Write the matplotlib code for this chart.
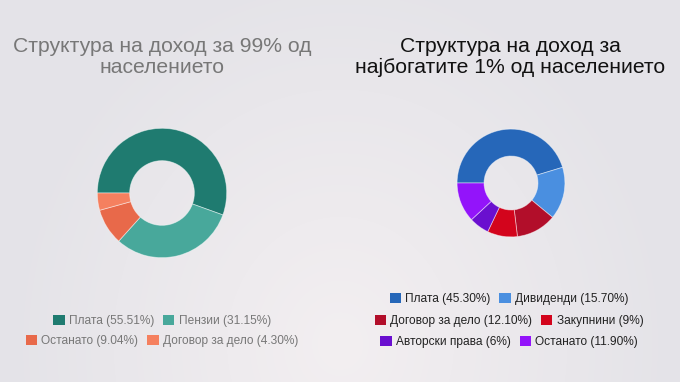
import matplotlib
matplotlib.use("Agg")
import matplotlib.pyplot as plt
from matplotlib.patches import Patch
import numpy as np

plt.rcParams['font.family'] = ['Liberation Sans', 'DejaVu Sans']

# Data
left_title = "Структура на доход за 99% од\nнаселението"
left_labels = ["Плата", "Пензии", "Останато", "Договор за дело"]
left_values = [55.51, 31.15, 9.04, 4.30]
left_texts = ["55.51%", "31.15%", "9.04%", "4.30%"]
left_colors = ["#1f7b70", "#48a89b", "#e8694a", "#f5805f"]

right_title = "Структура на доход за\nнајбогатите 1% од населението"
right_labels = ["Плата", "Дивиденди", "Договор за дело", "Закупнини", "Авторски права", "Останато"]
right_values = [45.30, 15.70, 12.10, 9, 6, 11.90]
right_texts = ["45.30%", "15.70%", "12.10%", "9%", "6%", "11.90%"]
right_colors = ["#2667b9", "#4a8fe0", "#b20e2a", "#d3041c", "#6a0fcf", "#9314fa"]

W, H = 680, 382
fig = plt.figure(figsize=(W / 100, H / 100), dpi=100)
fig.patch.set_facecolor("#ebe9ec")

# subtle radial background
bg = fig.add_axes([0, 0, 1, 1], zorder=-10)
yy, xx = np.mgrid[0:H, 0:W]
d = np.sqrt(((xx - W / 2) / (W / 2)) ** 2 + ((yy - H * 0.9) / H) ** 2)
d = np.clip(d, 0, 1)
c1 = np.array([0xf3, 0xef, 0xf1]) / 255
c2 = np.array([0xe4, 0xe3, 0xe8]) / 255
img = c1[None, None, :] * (1 - d[..., None]) + c2[None, None, :] * d[..., None]
bg.imshow(img, aspect='auto', extent=[0, 1, 0, 1])
bg.axis('off')


def px_axes(cx, cy, r):
    return fig.add_axes([(cx - r) / W, (H - cy - r) / H, 2 * r / W, 2 * r / H])


def donut(ax, values, colors):
    ax.pie(values, colors=colors, startangle=180, counterclock=False, radius=1,
           wedgeprops=dict(width=0.5, edgecolor=(1, 1, 1, 0.5), linewidth=0.6))
    ax.set_xlim(-1.02, 1.02)
    ax.set_ylim(-1.02, 1.02)
    ax.set_aspect('equal')
    ax.axis('off')


ax1 = px_axes(162, 193, 66)
donut(ax1, left_values, left_colors)
ax2 = px_axes(511, 183, 55)
donut(ax2, right_values, right_colors)

fig.text(162 / W, 1 - 57 / H, left_title, ha='center', va='center', fontsize=15.2,
         color='#777777', linespacing=1.18)
fig.text(510 / W, 1 - 57 / H, right_title, ha='center', va='center', fontsize=15.2,
         color='#111111', linespacing=1.18)


def legend_row(labels, texts, colors, cx, cy, color):
    handles = [Patch(facecolor=c, edgecolor='none') for c in colors]
    labs = [f"{l} ({t})" for l, t in zip(labels, texts)]
    lg = fig.legend(handles, labs, loc='center', bbox_to_anchor=(cx / W, 1 - cy / H),
                    ncol=len(labs), frameon=False, fontsize=8.6, handlelength=0.95,
                    handleheight=0.95, handletextpad=0.35, columnspacing=0.75,
                    borderpad=0, borderaxespad=0)
    for t in lg.get_texts():
        t.set_color(color)
    return lg


legend_row(left_labels[:2], left_texts[:2], left_colors[:2], 162, 321, '#777777')
legend_row(left_labels[2:], left_texts[2:], left_colors[2:], 162, 341, '#777777')

legend_row(right_labels[:2], right_texts[:2], right_colors[:2], 509, 299, '#222222')
legend_row(right_labels[2:4], right_texts[2:4], right_colors[2:4], 509, 321, '#222222')
legend_row(right_labels[4:], right_texts[4:], right_colors[4:], 509, 342, '#222222')

fig.savefig("out.png", dpi=100, facecolor=fig.get_facecolor())
